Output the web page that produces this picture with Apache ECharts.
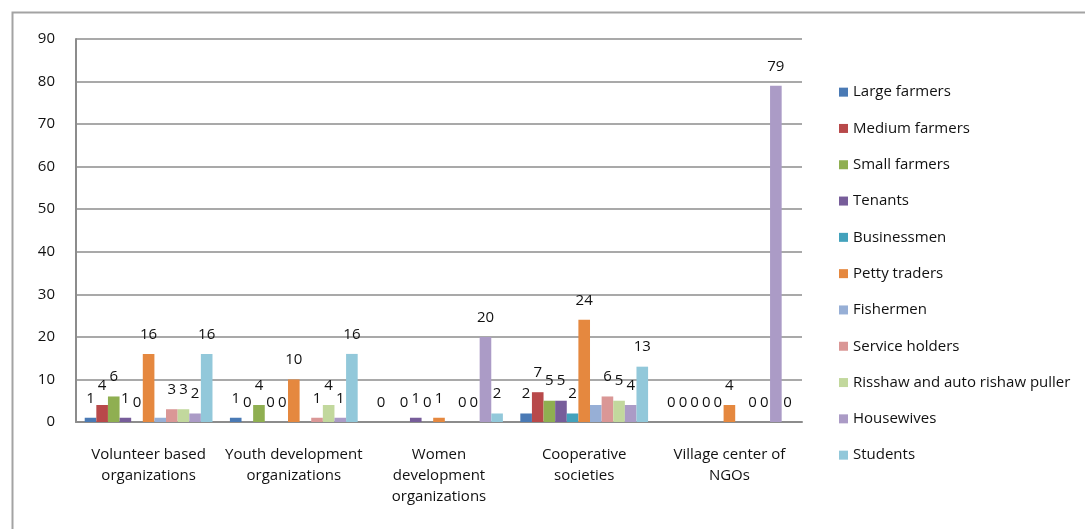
<!DOCTYPE html>
<html>
<head>
<meta charset="utf-8">
<script src="https://cdn.jsdelivr.net/npm/echarts@6/dist/echarts.min.js"></script>
<style>
  html, body { margin: 0; padding: 0; background: #ffffff; }
  #chart { width: 1085px; height: 529px; }
</style>
</head>
<body>
<div id="chart"></div>
<script>
// Organisation categories (x axis)
const categories = [
  'Volunteer based\norganizations',
  'Youth development\norganizations',
  'Women\ndevelopment\norganizations',
  'Cooperative\nsocieties',
  'Village center of\nNGOs'
];

// Respondent groups, one array per occupation (null = no entry)
const largeFarmers    = [1, 1, 0, 2, 0];
const mediumFarmers   = [4, 0, null, 7, 0];
const smallFarmers    = [6, 4, 0, 5, 0];
const tenants         = [1, 0, 1, 5, 0];
const businessmen     = [0, 0, 0, 2, 0];
const pettyTraders    = [16, 10, 1, 24, 4];
const fishermen       = [1, null, null, 4, null];
const serviceHolders  = [3, 1, 0, 6, 0];
const rickshawPullers = [3, 4, 0, 5, 0];
const housewives      = [2, 1, 20, 4, 79];
const students        = [16, 16, 2, 13, 0];

// Y axis tick values
const yTicks = { min: 0, max: 90, step: 10 };

const seriesDefs = [
  { name: 'Large farmers', data: largeFarmers, color: '#4A7AB5', labels: true },
  { name: 'Medium farmers', data: mediumFarmers, color: '#B8494A', labels: true },
  { name: 'Small farmers', data: smallFarmers, color: '#8FAF51', labels: true },
  { name: 'Tenants', data: tenants, color: '#775D9A', labels: true },
  { name: 'Businessmen', data: businessmen, color: '#43A2BC', labels: true },
  { name: 'Petty traders', data: pettyTraders, color: '#E5883F', labels: true },
  { name: 'Fishermen', data: fishermen, color: '#97AFD6', labels: false },
  { name: 'Service holders', data: serviceHolders, color: '#DA9796', labels: true },
  { name: 'Risshaw and auto rishaw puller', data: rickshawPullers, color: '#C2D89D', labels: true },
  { name: 'Housewives', data: housewives, color: '#AB9BC6', labels: true },
  { name: 'Students', data: students, color: '#92C8DA', labels: true }
];

const FONT = '"Open Sans", "Noto Sans", sans-serif';
const FONT_SIZE = 15;
const GRID_COLOR = '#8c8c8c';
const TEXT_COLOR = '#111111';

const chart = echarts.init(document.getElementById('chart'), null, { renderer: 'canvas' });

chart.setOption({
  animation: false,
  backgroundColor: '#ffffff',
  textStyle: { fontFamily: FONT },
  graphic: [{
    type: 'rect',
    left: 10,
    top: 10,
    shape: { x: 0, y: 0, width: 1200, height: 700 },
    style: { fill: 'none', stroke: '#a3a3a3', lineWidth: 2 },
    silent: true,
    z: 0
  }],
  grid: { left: 76, top: 39, right: 283, bottom: 107, containLabel: false },
  legend: {
    orient: 'vertical',
    left: 839,
    top: 84,
    padding: 0,
    icon: 'rect',
    itemWidth: 9,
    itemHeight: 9,
    itemGap: 20,
    textStyle: { fontFamily: FONT, fontSize: FONT_SIZE, color: TEXT_COLOR, lineHeight: 16.3 },
    data: seriesDefs.map(s => s.name)
  },
  xAxis: {
    type: 'category',
    data: categories,
    axisLine: { lineStyle: { color: GRID_COLOR, width: 2 } },
    axisTick: { show: false },
    axisLabel: {
      interval: 0,
      margin: 22,
      fontFamily: FONT,
      fontSize: FONT_SIZE,
      lineHeight: 21,
      color: TEXT_COLOR,
      align: 'center'
    }
  },
  yAxis: {
    type: 'value',
    min: yTicks.min,
    max: yTicks.max,
    interval: yTicks.step,
    axisLine: { show: true, lineStyle: { color: GRID_COLOR, width: 2 } },
    axisTick: { show: false },
    splitLine: { lineStyle: { color: GRID_COLOR, width: 1.5 } },
    axisLabel: { margin: 21, fontFamily: FONT, fontSize: FONT_SIZE, color: TEXT_COLOR }
  },
  series: seriesDefs.map(s => ({
    name: s.name,
    type: 'bar',
    data: s.data,
    barGap: '0%',
    barCategoryGap: '12%',
    itemStyle: { color: s.color },
    label: {
      show: s.labels,
      position: 'top',
      distance: 12,
      fontFamily: FONT,
      fontSize: FONT_SIZE,
      color: TEXT_COLOR
    }
  }))
});
</script>
</body>
</html>
